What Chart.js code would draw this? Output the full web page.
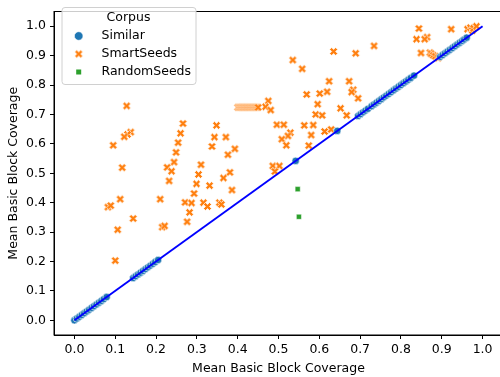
<!DOCTYPE html>
<html>
<head>
<meta charset="utf-8">
<script src="https://cdn.jsdelivr.net/npm/chart.js@4"></script>
<style>
  html, body { margin: 0; padding: 0; background: #fff; overflow: hidden; }
  #grafico { display: block; }
</style>
</head>
<body>
<canvas id="grafico" width="510" height="377"></canvas>
<script>
// Datos
const xTicks = [0.0, 0.1, 0.2, 0.3, 0.4, 0.5, 0.6, 0.7, 0.8, 0.9, 1.0];
const yTicks = [0.0, 0.1, 0.2, 0.3, 0.4, 0.5, 0.6, 0.7, 0.8, 0.9, 1.0];
const corpusLabels = ["Similar", "SmartSeeds", "RandomSeeds"];

const similarX = [
    0.000, 0.006, 0.012, 0.018, 0.024, 0.030, 0.036, 0.042, 0.048, 0.054, 0.060, 0.066, 0.072, 0.079,
    0.144, 0.150, 0.156, 0.162, 0.168, 0.174, 0.180, 0.186, 0.192, 0.198, 0.205,
    0.542, 0.644,
    0.695, 0.701, 0.707, 0.713, 0.719, 0.728, 0.734, 0.740, 0.746, 0.752, 0.758, 0.764, 0.770,
    0.776, 0.782, 0.788, 0.794, 0.800, 0.806, 0.812, 0.818, 0.824, 0.832,
    0.896, 0.902, 0.908, 0.914, 0.920, 0.926, 0.932, 0.938, 0.944, 0.950, 0.955, 0.961
];
const similarY = [
    0.000, 0.006, 0.012, 0.018, 0.024, 0.030, 0.036, 0.042, 0.048, 0.054, 0.060, 0.066, 0.072, 0.079,
    0.144, 0.150, 0.156, 0.162, 0.168, 0.174, 0.180, 0.186, 0.192, 0.198, 0.205,
    0.542, 0.644,
    0.695, 0.701, 0.707, 0.713, 0.719, 0.728, 0.734, 0.740, 0.746, 0.752, 0.758, 0.764, 0.770,
    0.776, 0.782, 0.788, 0.794, 0.800, 0.806, 0.812, 0.818, 0.824, 0.832,
    0.896, 0.902, 0.908, 0.914, 0.920, 0.926, 0.932, 0.938, 0.944, 0.950, 0.955, 0.961
];

const smartX = [
    0.128, 0.266, 0.138, 0.130, 0.122, 0.260, 0.095, 0.254, 0.249, 0.244, 0.227, 0.238, 0.117,
    0.232, 0.112, 0.082, 0.089, 0.210, 0.271, 0.287, 0.282, 0.144, 0.276, 0.106, 0.215, 0.221,
    0.100, 0.348, 0.496, 0.513, 0.529, 0.523, 0.343, 0.371, 0.508, 0.337, 0.519, 0.393, 0.376,
    0.310, 0.486, 0.502, 0.491, 0.381, 0.304, 0.365, 0.299, 0.331, 0.386, 0.293, 0.316, 0.326,
    0.355, 0.360, 0.475, 0.468, 0.481,
    0.400, 0.4025, 0.405, 0.4075, 0.410, 0.4125, 0.415, 0.4175, 0.420, 0.4225, 0.425, 0.4275,
    0.430, 0.4325, 0.435, 0.4375, 0.440, 0.4425, 0.445, 0.4475, 0.450,
    0.558, 0.535, 0.624, 0.673, 0.569, 0.601, 0.619, 0.683, 0.679, 0.695, 0.596, 0.652, 0.667,
    0.591, 0.607, 0.563, 0.585, 0.580, 0.613, 0.629, 0.574, 0.635, 0.689, 0.734, 0.844, 0.923,
    0.963, 0.970, 0.975, 0.978, 0.985, 0.838, 0.864, 0.858, 0.849, 0.871, 0.874, 0.879, 0.884, 0.891
];
const smartY = [
    0.729, 0.669, 0.640, 0.632, 0.624, 0.636, 0.595, 0.604, 0.571, 0.538, 0.520, 0.507, 0.519,
    0.474, 0.412, 0.385, 0.390, 0.412, 0.401, 0.399, 0.367, 0.346, 0.335, 0.308, 0.317, 0.321,
    0.203, 0.663, 0.665, 0.665, 0.638, 0.627, 0.623, 0.623, 0.616, 0.591, 0.595, 0.583, 0.563,
    0.529, 0.525, 0.525, 0.506, 0.503, 0.496, 0.484, 0.464, 0.458, 0.443, 0.431, 0.400, 0.387,
    0.400, 0.394, 0.746, 0.726, 0.715,
    0.724, 0.724, 0.724, 0.724, 0.724, 0.724, 0.724, 0.724, 0.724, 0.724, 0.724, 0.724,
    0.724, 0.724, 0.724, 0.724, 0.724, 0.724, 0.724, 0.724, 0.724,
    0.855, 0.885, 0.813, 0.813, 0.768, 0.771, 0.777, 0.784, 0.776, 0.755, 0.735, 0.721, 0.697,
    0.700, 0.697, 0.663, 0.664, 0.630, 0.642, 0.649, 0.594, 0.914, 0.908, 0.933, 0.992, 0.990,
    0.990, 0.995, 0.985, 0.993, 1.000, 0.956, 0.963, 0.956, 0.909, 0.910, 0.906, 0.901, 0.898, 0.892
];

const randomX = [0.547, 0.550];
const randomY = [0.446, 0.352];

const refLineX = [0.0, 1.0];
const refLineY = [0.0, 1.0];

const azul = "#1f77b4";
const naranja = "#ff7f0e";
const verde = "#2ca02c";
const fuente = "'DejaVu Sans', sans-serif";
const tamTexto = 12.5;

function puntos(xs, ys) {
    return xs.map((x, i) => ({ x: x, y: ys[i] }));
}

// marcador "X" relleno al estilo matplotlib
function marcadorX(tam) {
    const lado = Math.ceil(tam + 3);
    const c = document.createElement("canvas");
    c.width = lado;
    c.height = lado;
    const g = c.getContext("2d");
    const v = [[-1, -2], [0, -1], [1, -2], [2, -1], [1, 0], [2, 1], [1, 2], [0, 1], [-1, 2], [-2, 1], [-1, 0], [-2, -1]];
    g.beginPath();
    v.forEach((p, i) => {
        const px = lado / 2 + (p[0] / 4) * tam;
        const py = lado / 2 + (p[1] / 4) * tam;
        if (i === 0) g.moveTo(px, py); else g.lineTo(px, py);
    });
    g.closePath();
    g.fillStyle = naranja;
    g.fill();
    g.strokeStyle = "#fff";
    g.lineWidth = 0.7;
    g.stroke();
    return c;
}

const iconoX = marcadorX(8);

const marco = {
    id: "marco",
    afterDatasetsDraw(chart) {
        const a = chart.chartArea;
        const ctx = chart.ctx;
        ctx.save();
        ctx.strokeStyle = "#000";
        ctx.lineWidth = 1;
        ctx.strokeRect(a.left, a.top, a.right - a.left, a.bottom - a.top);
        ctx.restore();
    },
};

const leyenda = {
    id: "leyenda",
    afterDraw(chart) {
        const ctx = chart.ctx;
        ctx.save();
        const x0 = 62, y0 = 7.5, w = 134, h = 77;
        ctx.beginPath();
        ctx.roundRect(x0, y0, w, h, 3);
        ctx.fillStyle = "rgba(255,255,255,0.8)";
        ctx.fill();
        ctx.strokeStyle = "#d0d0d0";
        ctx.lineWidth = 1;
        ctx.stroke();

        ctx.fillStyle = "#000";
        ctx.font = tamTexto + "px " + fuente;
        ctx.textBaseline = "middle";
        ctx.textAlign = "center";
        ctx.fillText("Corpus", 128.5, 18);
        ctx.textAlign = "left";
        const filas = [36, 54, 72];
        corpusLabels.forEach((t, i) => ctx.fillText(t, 101.5, filas[i]));

        // marcadores
        ctx.beginPath();
        ctx.arc(78.7, 36, 4.3, 0, Math.PI * 2);
        ctx.fillStyle = azul;
        ctx.fill();
        ctx.strokeStyle = "#fff";
        ctx.lineWidth = 0.6;
        ctx.stroke();
        ctx.drawImage(iconoX, 78.7 - iconoX.width / 2, 54 - iconoX.height / 2);
        ctx.fillStyle = verde;
        ctx.fillRect(76.2, 69.5, 5, 5);
        ctx.restore();
    },
};

const ctx = document.getElementById("grafico").getContext("2d");

new Chart(ctx, {
    type: "scatter",
    data: {
        datasets: [
            {
                label: "y=x",
                type: "line",
                data: puntos(refLineX, refLineY),
                borderColor: "#0000ff",
                borderWidth: 1.9,
                pointRadius: 0,
                fill: false,
            },
            {
                label: corpusLabels[0],
                data: puntos(similarX, similarY),
                pointStyle: "circle",
                pointRadius: 3.7,
                backgroundColor: azul,
                borderColor: "#fff",
                borderWidth: 0.6,
            },
            {
                label: corpusLabels[1],
                data: puntos(smartX, smartY),
                pointStyle: iconoX,
            },
            {
                label: corpusLabels[2],
                data: puntos(randomX, randomY),
                pointStyle: "rect",
                pointRadius: 3.6,
                backgroundColor: verde,
                borderColor: "#fff",
                borderWidth: 0.5,
            },
        ],
    },
    options: {
        responsive: false,
        animation: false,
        events: [],
        layout: { padding: { top: 1, right: 7, left: 0, bottom: 0 } },
        plugins: {
            legend: { display: false },
            tooltip: { enabled: false },
        },
        scales: {
            x: {
                type: "linear",
                min: -0.05,
                max: 1.05,
                afterBuildTicks: (s) => { s.ticks = xTicks.map((v) => ({ value: v })); },
                afterFit: (s) => { s.height = 42; },
                ticks: {
                    callback: (v) => v.toFixed(1),
                    color: "#000",
                    font: { family: fuente, size: tamTexto },
                    padding: 3,
                    maxRotation: 0,
                    autoSkip: false,
                },
                grid: { drawOnChartArea: false, tickLength: 4, tickColor: "#000" },
                border: { color: "#000", width: 1 },
                title: {
                    display: true,
                    text: "Mean Basic Block Coverage",
                    color: "#000",
                    font: { family: fuente, size: tamTexto },
                    padding: { top: 0, bottom: 1 },
                },
            },
            y: {
                type: "linear",
                min: -0.05,
                max: 1.05,
                afterBuildTicks: (s) => { s.ticks = yTicks.map((v) => ({ value: v })); },
                afterFit: (s) => { s.width = 54; },
                ticks: {
                    callback: (v) => v.toFixed(1),
                    color: "#000",
                    font: { family: fuente, size: tamTexto },
                    padding: 4,
                    autoSkip: false,
                },
                grid: { drawOnChartArea: false, tickLength: 4, tickColor: "#000" },
                border: { color: "#000", width: 1 },
                title: {
                    display: true,
                    text: "Mean Basic Block Coverage",
                    color: "#000",
                    font: { family: fuente, size: tamTexto },
                    padding: { top: 6, bottom: 0 },
                },
            },
        },
    },
    plugins: [marco, leyenda],
});
</script>
</body>
</html>
